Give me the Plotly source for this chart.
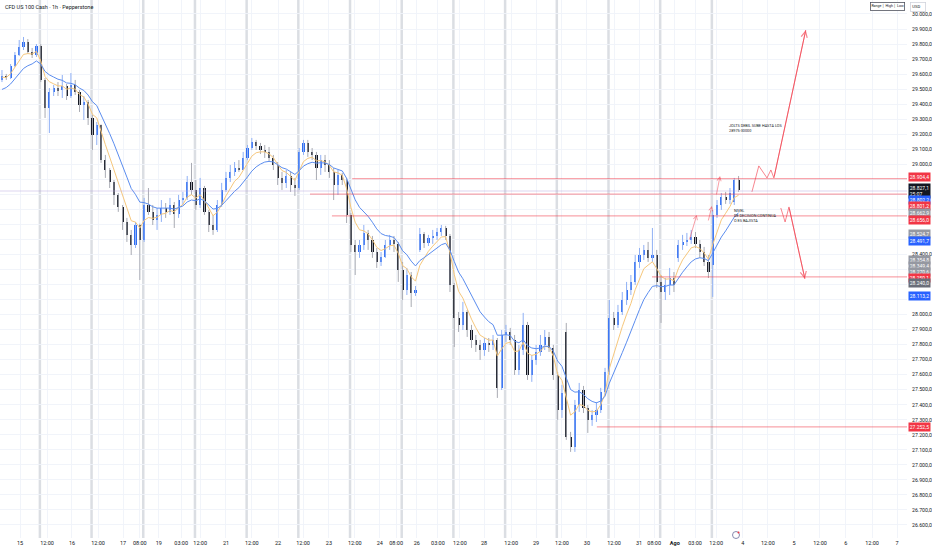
import plotly.graph_objects as go

# hourly candles (prices)
opens = [29561, 29587, 29574, 29654, 29727, 29780, 29814, 29747, 29727, 29787,
         29561, 29374, 29481, 29507, 29494, 29521, 29454, 29527, 29481, 29394,
         29414, 29308, 29195, 29261, 29028, 28962, 28882, 28796, 28716, 28616,
         28530, 28463, 28596, 28496, 28729, 28683, 28629, 28663, 28709, 28683,
         28729, 28669, 28762, 28776, 28882, 28829, 28729, 28842, 28683, 28596,
         28563, 28729, 28829, 28909, 28949, 28975, 28965, 29042, 29108, 29148,
         29122, 29095, 29082, 29042, 28995, 28909, 28876, 28922, 28862, 28842,
         29082, 29142, 29082, 29062, 28975, 29028, 28995, 28949, 28862, 28929,
         28895, 28663, 28463, 28416, 28463, 28543, 28496, 28416, 28350, 28383,
         28463, 28496, 28470, 28297, 28164, 28263, 28144, 28430, 28536, 28476,
         28510, 28523, 28549, 28576, 28523, 28197, 27977, 27931, 28017, 27897,
         27831, 27798, 27764, 27811, 27798, 27831, 27512, 27864, 27884, 27831,
         27631, 27764, 27931, 27598, 27698, 27751, 27798, 27851, 27778, 27598,
         27365, 27884, 27186, 27119, 27398, 27498, 27379, 27299, 27332, 27365,
         27485, 27618, 27977, 27931, 28017, 28097, 28164, 28217, 28350, 28396,
         28430, 28377, 28396, 28217, 28150, 28197, 28243, 28377, 28463, 28483,
         28496, 28516, 28470, 28416, 28350, 28330, 28663, 28729, 28782, 28762, 28749, 28895]
highs = [29627, 29601, 29667, 29747, 29827, 29847, 29833, 29774, 29800, 29800,
         29574, 29507, 29527, 29547, 29594, 29534, 29607, 29561, 29494, 29454,
         29428, 29328, 29281, 29265, 29062, 28975, 28895, 28809, 28729, 28643,
         28563, 28616, 28605, 28776, 28842, 28729, 28709, 28762, 28742, 28776,
         28749, 28796, 28816, 28922, 29009, 28895, 28909, 28856, 28696, 28663,
         28762, 28876, 28949, 28995, 29015, 29028, 29082, 29128, 29175, 29162,
         29142, 29128, 29115, 29062, 29015, 28949, 28962, 28949, 28909, 29108,
         29162, 29162, 29108, 29082, 29062, 29062, 29028, 28975, 28962, 28942,
         28909, 28676, 28496, 28496, 28596, 28563, 28523, 28443, 28416, 28496,
         28530, 28523, 28483, 28350, 28310, 28283, 28190, 28576, 28549, 28530,
         28563, 28576, 28596, 28590, 28536, 28210, 28017, 28084, 28030, 27931,
         27864, 27831, 27844, 27844, 27864, 27844, 27897, 27931, 27911, 27864,
         27798, 28011, 27951, 27731, 27798, 27864, 27897, 27884, 27798, 27618,
         27532, 27944, 27219, 27432, 27545, 27525, 27398, 27365, 27418, 27512,
         27645, 28097, 28017, 28064, 28150, 28217, 28263, 28396, 28443, 28463,
         28483, 28576, 28430, 28263, 28243, 28310, 28283, 28496, 28530, 28543,
         28563, 28549, 28496, 28450, 28396, 28696, 28762, 28809, 28816, 28842, 28909, 28922]
lows = [29547, 29561, 29567, 29647, 29720, 29760, 29734, 29707, 29714, 29547,
        29308, 29208, 29454, 29454, 29441, 29428, 29441, 29461, 29348, 29295,
        29261, 29095, 29128, 29009, 28909, 28842, 28729, 28683, 28563, 28483,
        28396, 28443, 28230, 28483, 28663, 28596, 28563, 28616, 28643, 28663,
        28576, 28643, 28729, 28762, 28796, 28696, 28709, 28663, 28549, 28530,
        28549, 28716, 28816, 28882, 28922, 28949, 28962, 29028, 29095, 29095,
        29068, 29042, 29015, 28962, 28862, 28829, 28842, 28816, 28789, 28829,
        29062, 29049, 29028, 28895, 28929, 28949, 28909, 28762, 28796, 28862,
        28609, 28416, 28263, 28377, 28430, 28430, 28377, 28310, 28323, 28377,
        28430, 28416, 28217, 28097, 28130, 28050, 28124, 28416, 28443, 28456,
        28470, 28496, 28523, 28496, 28150, 27784, 27884, 27897, 27851, 27778,
        27751, 27698, 27725, 27751, 27764, 27445, 27498, 27818, 27798, 27598,
        27598, 27731, 27565, 27552, 27665, 27725, 27764, 27751, 27565, 27299,
        27312, 27166, 27086, 27086, 27352, 27345, 27212, 27259, 27285, 27345,
        27465, 27598, 27897, 27911, 27997, 28064, 28130, 28197, 28310, 28363,
        28350, 28350, 28177, 27944, 28097, 28130, 28150, 28350, 28430, 28456,
        28470, 28443, 28377, 28323, 28243, 28117, 28643, 28696, 28736, 28736, 28729, 28816]
closes = [29587, 29574, 29654, 29727, 29780, 29814, 29747, 29727, 29787, 29561,
          29374, 29481, 29507, 29494, 29521, 29454, 29527, 29481, 29394, 29414,
          29308, 29195, 29261, 29028, 28962, 28882, 28796, 28716, 28616, 28530,
          28463, 28596, 28496, 28729, 28683, 28629, 28663, 28709, 28683, 28729,
          28669, 28762, 28776, 28882, 28829, 28729, 28842, 28683, 28596, 28563,
          28729, 28829, 28909, 28949, 28975, 28965, 29042, 29108, 29148, 29122,
          29095, 29082, 29042, 28995, 28909, 28876, 28922, 28862, 28842, 29082,
          29142, 29082, 29062, 28975, 29028, 28995, 28949, 28862, 28929, 28895,
          28663, 28463, 28416, 28463, 28543, 28496, 28416, 28350, 28383, 28463,
          28496, 28470, 28297, 28164, 28263, 28144, 28164, 28536, 28476, 28510,
          28523, 28549, 28576, 28523, 28197, 27977, 27931, 28017, 27897, 27831,
          27798, 27764, 27811, 27798, 27831, 27512, 27864, 27884, 27831, 27631,
          27764, 27931, 27598, 27698, 27751, 27798, 27851, 27778, 27598, 27365,
          27478, 27186, 27119, 27398, 27498, 27379, 27299, 27332, 27365, 27485,
          27618, 27977, 27931, 28017, 28097, 28164, 28217, 28350, 28396, 28430,
          28377, 28396, 28217, 28150, 28197, 28243, 28197, 28463, 28483, 28496,
          28516, 28470, 28416, 28350, 28283, 28663, 28729, 28782, 28762, 28809, 28895, 28827.1]

# moving averages: starting values read at the left edge
ema_fast_span, ema_fast_seed = 5, 29575
ema_slow_span, ema_slow_seed = 11, 29480

# time axis (bar positions) and labels
x_tick_pos = [4.2, 10.45, 16.25, 22.3, 28.1, 32.0, 36.4, 41.6, 46.0, 52.0, 58.0, 64.1, 69.9,
              75.9, 81.9, 87.7, 91.5, 96.3, 101.2, 106.3, 111.9, 118.2, 124.0, 130.0, 135.8,
              142.1, 147.9, 151.4, 156.2, 160.9, 165.8, 172.0, 177.8, 183.9, 189.9, 195.9,
              202.0, 207.8]
x_tick_text = ["15", "12:00", "16", "12:00", "17", "08:00", "19", "03:00", "12:00", "21",
               "12:00", "22", "12:00", "23", "12:00", "24", "08:00", "26", "03:00", "12:00",
               "28", "12:00", "29", "12:00", "30", "12:00", "31", "08:00", "<b>Ago</b>", "03:00",
               "12:00", "4", "12:00", "5", "12:00", "6", "12:00", "7"]
session_breaks = [8.8, 20.8, 32.8, 44.8, 56.8, 68.8, 80.8, 92.8, 104.8, 116.8, 128.8,
                  140.8, 152.8, 164.8]

# drawn levels
level_prices = [28904.4, 28801.2, 28656.0, 28250.1, 27252.5]
level_start = [81.3, 71.5, 76.6, 150.9, 138.1]
lavender_level = 28822

# price scale badges
badge_values = [28904.4, 28827.1, 28802.2, 28801.2, 28662.9, 28656.0, 28524.7, 28491.7,
                28354.8, 28349.4, 28270.6, 28250.1, 28240.0, 28113.2, 27252.5]
badge_kind = ["red", "last", "blue", "red", "gray", "red", "gray", "blue",
              "gray", "gray", "gray", "red", "dgray", "blue", "red"]
badge_rows = [177, 191, 200, 206, 213, 220, 234, 241, 260, 266, 272, 278, 283, 296, 427]
countdown = "25:07"

# drawn scenario paths
up_path_x = [174.1, 175.7, 177.6, 178.5, 179.2, 186.6]
up_path_y = [28816, 28989, 28909, 28962, 28909, 29893]
down_path_x = [180.8, 181.8, 182.7, 186.4]
down_path_y = [28709, 28616, 28716, 28237]
small_arrows = [(159.5, 28490, 161.3, 28663), (163.9, 28616, 164.8, 28722),
                (165.8, 28789, 166.7, 28922)]

PLOT_H = 538
FONT = "Roboto, Arial, sans-serif"
RED = "#f23645"
LINE_RED = "rgba(242,54,69,0.45)"
UP, DOWN = "#2f6df2", "#131722"
UP_WICK, DOWN_WICK = "#8fb0f5", "#a9abb3"


def fmt(v):
    return f"{v:,.1f}".replace(",", "X").replace(".", ",").replace("X", ".")


def ema(values, span, seed):
    a = 2 / (span + 1)
    e = seed
    out = []
    for v in values:
        e = e + a * (v - e)
        out.append(e)
    return out


xs = list(range(len(closes)))
is_up = [c >= o for o, c in zip(opens, closes)]

fig = go.Figure()

# wicks
for flag, col in ((True, UP_WICK), (False, DOWN_WICK)):
    wx, wy = [], []
    for i in xs:
        if is_up[i] == flag:
            wx += [i, i, None]
            wy += [lows[i], highs[i], None]
    fig.add_trace(go.Scatter(x=wx, y=wy, mode="lines", line=dict(color=col, width=1),
                             hoverinfo="skip", showlegend=False))

# bodies
fig.add_trace(go.Bar(
    x=xs, y=[max(abs(c - o), 4) for o, c in zip(opens, closes)],
    base=[min(o, c) for o, c in zip(opens, closes)], width=0.5,
    marker=dict(color=[UP if u else DOWN for u in is_up], line=dict(width=0)),
    showlegend=False))

fig.add_trace(go.Scatter(x=xs, y=ema(closes, ema_fast_span, ema_fast_seed), mode="lines",
                         line=dict(color="#f6c77c", width=1), showlegend=False))
fig.add_trace(go.Scatter(x=xs, y=ema(closes, ema_slow_span, ema_slow_seed), mode="lines",
                         line=dict(color="#5b8def", width=1), showlegend=False))

# scenario paths
fig.add_trace(go.Scatter(x=up_path_x, y=up_path_y, mode="lines",
                         line=dict(color="rgba(242,54,69,0.6)", width=1), showlegend=False))
fig.add_trace(go.Scatter(x=down_path_x, y=down_path_y, mode="lines",
                         line=dict(color="rgba(242,54,69,0.6)", width=1), showlegend=False))

x_end = 210.1
shapes = []
for sb in session_breaks:
    shapes.append(dict(type="line", xref="x", yref="paper", x0=sb, x1=sb, y0=0, y1=1,
                       line=dict(color="rgba(190,194,204,0.55)", width=2.5), layer="below"))
shapes.append(dict(type="line", xref="paper", yref="y", x0=0, x1=1, y0=lavender_level,
                   y1=lavender_level, line=dict(color="rgba(180,160,220,0.45)", width=1)))
for p, s in zip(level_prices, level_start):
    shapes.append(dict(type="line", xref="x", yref="y", x0=s, x1=x_end, y0=p, y1=p,
                       line=dict(color=LINE_RED, width=1.2)))
# alert icon at bottom
shapes.append(dict(type="circle", xref="paper", yref="paper", xsizemode="pixel",
                   ysizemode="pixel", xanchor=736 / 907, yanchor=3 / PLOT_H,
                   x0=-3.5, x1=3.5, y0=-3.5, y1=3.5, line=dict(color="#6a6d9a", width=0.8)))
shapes.append(dict(type="circle", xref="paper", yref="paper", xsizemode="pixel",
                   ysizemode="pixel", xanchor=738.5 / 907, yanchor=5.5 / PLOT_H,
                   x0=-1, x1=1, y0=-1, y1=1, fillcolor=RED, line=dict(width=0)))

ann = []
ann.append(dict(xref="paper", yref="paper", x=0.003, y=1 - 7 / PLOT_H, xanchor="left",
                yanchor="middle", showarrow=False, text="CFD US 100 Cash · 1h · Pepperstone",
                font=dict(size=5.5, color="#131722", family=FONT)))
ann.append(dict(xref="x", yref="y", x=168.3, y=29288, xanchor="left", yanchor="top",
                showarrow=False, align="left",
                text="JOLTS DEBIL SUBE HASTA LOS<br>28975-30000",
                font=dict(size=3.8, color="#131722", family=FONT)))
ann.append(dict(xref="x", yref="y", x=169.5, y=28722, xanchor="left", yanchor="top",
                showarrow=False, align="left",
                text="NIVEL<br>DE DECISION CONTINUA<br>O ES BAJISTA",
                font=dict(size=3.8, color="#131722", family=FONT)))

# arrow heads on the drawn paths
for px_, py_ in ((up_path_x, up_path_y), (down_path_x, down_path_y)):
    ann.append(dict(xref="x", yref="y", axref="x", ayref="y", x=px_[-1], y=py_[-1],
                    ax=px_[-2], ay=py_[-2], showarrow=True, arrowhead=5, arrowsize=1.2,
                    arrowwidth=1, arrowcolor="rgba(242,54,69,0.6)", text=""))
for x0, y0, x1, y1 in small_arrows:
    ann.append(dict(xref="x", yref="y", axref="x", ayref="y", x=x1, y=y1, ax=x0, ay=y0,
                    showarrow=True, arrowhead=5, arrowsize=1, arrowwidth=0.8,
                    arrowcolor="rgba(242,54,69,0.6)", text=""))

badge_colors = {"red": RED, "blue": "#2962ff", "gray": "#9598a1", "dgray": "#6a6d78",
                "last": "#131722"}
for v, k, r in zip(badge_values, badge_kind, badge_rows):
    txt = fmt(v) + (f"<br>{countdown}" if k == "last" else "")
    ann.append(dict(xref="paper", yref="paper", x=1, y=1 - r / PLOT_H, xanchor="left",
                    yanchor="middle", xshift=1, showarrow=False, text=txt, align="left",
                    bgcolor=badge_colors[k], borderpad=0.8,
                    font=dict(size=5, color="white", family=FONT)))

# top right controls
ann.append(dict(xref="paper", yref="paper", x=905 / 907, y=1 - 7 / PLOT_H, xanchor="right",
                yanchor="middle", showarrow=False, text="Range │ High │ Low",
                bordercolor="#50535e", borderwidth=0.8, borderpad=0.6, bgcolor="white",
                font=dict(size=3.6, color="#131722", family=FONT)))
ann.append(dict(xref="paper", yref="paper", x=1, y=1 - 7 / PLOT_H, xanchor="left",
                yanchor="middle", xshift=3, showarrow=False, text="USD   ",
                bordercolor="#d1d4dc", borderwidth=0.8, borderpad=1.5, bgcolor="white",
                font=dict(size=4.2, color="#131722", family=FONT)))

y_ticks = list(range(26600, 30001, 100))
hidden = {28100, 28200, 28300, 28500, 28600, 28700, 28800, 28900}
y_text = ["" if t in hidden else fmt(t) for t in y_ticks]

fig.update_layout(
    width=932, height=550,
    margin=dict(l=0, r=25, t=0, b=12),
    paper_bgcolor="white", plot_bgcolor="white",
    font=dict(family=FONT, size=5.5, color="#131722"),
    shapes=shapes, annotations=ann, showlegend=False, bargap=0,
    xaxis=dict(range=[-0.46, x_end], tickmode="array",
               tickvals=x_tick_pos, ticktext=x_tick_text, showgrid=True,
               gridcolor="rgba(240,243,250,0.9)", gridwidth=1, zeroline=False,
               showline=False, ticks="", tickfont=dict(size=5.5, color="#131722")),
    yaxis=dict(range=[26513, 30093], side="right", tickmode="array", tickvals=y_ticks,
               ticktext=y_text, showgrid=True, gridcolor="rgba(240,243,250,0.9)",
               zeroline=False, showline=False, ticks="", ticklabelstandoff=4,
               tickfont=dict(size=5.2, color="#131722")),
)

fig.write_html("out.html", config={"displayModeBar": False},
               post_script="document.body.style.margin='0px';")
